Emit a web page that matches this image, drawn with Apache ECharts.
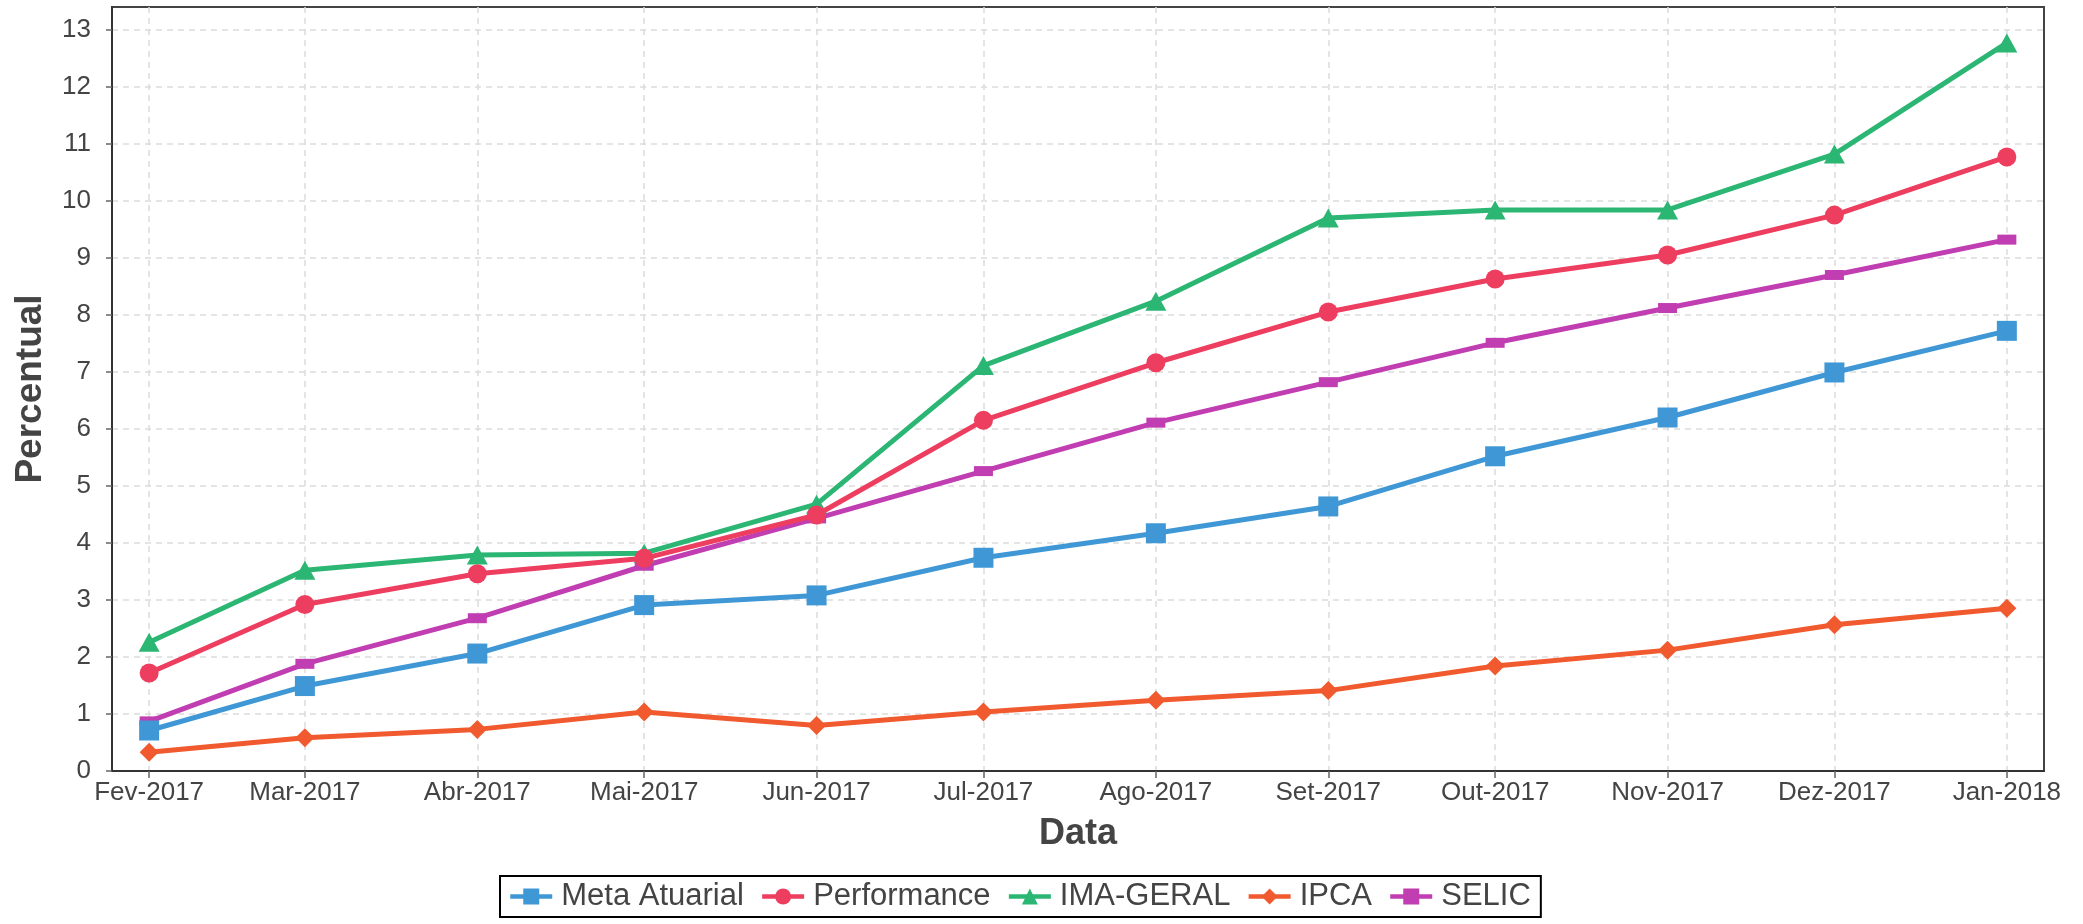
<!DOCTYPE html>
<html>
<head>
<meta charset="utf-8">
<script src="https://cdn.jsdelivr.net/npm/echarts@6.0.0/dist/echarts.min.js"></script>
<style>
  html, body { margin: 0; padding: 0; background: #fff; }
  #main { width: 2083px; height: 924px; }
</style>
</head>
<body>
<div id="main"></div>
<script>
// dados
var months = ['Fev-2017', 'Mar-2017', 'Abr-2017', 'Mai-2017', 'Jun-2017', 'Jul-2017',
              'Ago-2017', 'Set-2017', 'Out-2017', 'Nov-2017', 'Dez-2017', 'Jan-2018'];
var dates = ['2017-02-01', '2017-03-01', '2017-04-01', '2017-05-01', '2017-06-01', '2017-07-01',
             '2017-08-01', '2017-09-01', '2017-10-01', '2017-11-01', '2017-12-01', '2018-01-01'];
var metaAtuarial = [0.71, 1.49, 2.06, 2.91, 3.08, 3.74, 4.17, 4.64, 5.52, 6.20, 6.99, 7.72];
var performance  = [1.72, 2.92, 3.46, 3.73, 4.49, 6.15, 7.16, 8.05, 8.63, 9.05, 9.75, 10.77];
var imaGeral     = [2.26, 3.52, 3.79, 3.82, 4.68, 7.11, 8.24, 9.70, 9.84, 9.84, 10.82, 12.77];
var ipca         = [0.33, 0.585, 0.73, 1.035, 0.80, 1.035, 1.24, 1.41, 1.84, 2.12, 2.565, 2.855];
var selic        = [0.87, 1.88, 2.68, 3.60, 4.43, 5.26, 6.11, 6.82, 7.51, 8.12, 8.70, 9.32];
var yTicks = [0, 1, 2, 3, 4, 5, 6, 7, 8, 9, 10, 11, 12, 13];

// eixo x em dias desde o primeiro mês (meses têm tamanhos diferentes)
var DAY = 86400000;
var t0 = Date.parse(dates[0] + 'T00:00:00Z');
var days = dates.map(function (d) { return (Date.parse(d + 'T00:00:00Z') - t0) / DAY; });
var xPad = (days[days.length - 1] - days[0]) * 0.02;
function pairs(values) {
    return days.map(function (t, i) { return [t, values[i]]; });
}
function monthLabel(v) {
    for (var i = 0; i < days.length; i++) {
        if (Math.abs(days[i] - v) < 0.5) return months[i];
    }
    return '';
}

var font = '"Liberation Sans", Arial, sans-serif';
var textColor = '#444';
var gridLine = { show: true, lineStyle: { type: [6, 5], color: '#dcdcdc', width: 1.5 } };

function lineSeries(name, values, color, symbol, size, z) {
    return {
        name: name,
        type: 'line',
        data: pairs(values),
        symbol: symbol,
        symbolSize: size,
        showAllSymbol: true,
        z: z,
        lineStyle: { color: color, width: 5 },
        itemStyle: { color: color },
        emphasis: { disabled: true }
    };
}

var option = {
    animation: false,
    textStyle: { fontFamily: font },
    grid: {
        left: 112, right: 39, top: 7, bottom: 153,
        show: true, borderColor: '#444', borderWidth: 2,
        outerBoundsMode: 'none'
    },
    legend: {
        left: 500, top: 876,
        borderColor: '#000', borderWidth: 2,
        padding: [5, 10, 5, 8],
        itemWidth: 42, itemHeight: 20, itemGap: 16,
        lineStyle: { width: 4.5 },
        textStyle: { fontSize: 31, color: textColor, fontFamily: font, padding: [0, 0, 0, 4] },
        data: ['Meta Atuarial', 'Performance', 'IMA-GERAL', 'IPCA', 'SELIC']
    },
    xAxis: {
        type: 'value',
        min: days[0] - xPad,
        max: days[days.length - 1] + xPad,
        name: 'Data',
        nameLocation: 'middle',
        nameGap: 45,
        nameTextStyle: { fontSize: 36, fontWeight: 'bold', color: textColor, fontFamily: font },
        axisLine: { show: true, onZero: false, lineStyle: { color: '#333', width: 2 } },
        axisTick: { show: true, customValues: days, length: 7, lineStyle: { color: '#666', width: 1.5 } },
        axisLabel: {
            customValues: days,
            formatter: monthLabel,
            fontSize: 26, color: textColor, margin: 9, fontFamily: font
        },
        splitLine: gridLine
    },
    yAxis: {
        type: 'value',
        min: 0,
        max: 13.4,
        name: 'Percentual',
        nameLocation: 'middle',
        nameGap: 63,
        nameTextStyle: { fontSize: 37, fontWeight: 'bold', color: textColor, fontFamily: font },
        axisLine: { show: true, onZero: false, lineStyle: { color: '#333', width: 2 } },
        axisTick: { show: true, customValues: yTicks, length: 6, lineStyle: { color: '#666', width: 1.5 } },
        axisLabel: { customValues: yTicks, fontSize: 26, color: textColor, margin: 21, fontFamily: font },
        splitLine: gridLine
    },
    series: [
        lineSeries('Meta Atuarial', metaAtuarial, '#3f98d5', 'rect', 20, 10),
        lineSeries('Performance', performance, '#ee3e60', 'circle', 19, 9),
        lineSeries('IMA-GERAL', imaGeral, '#2cb674', 'triangle', [21, 19], 8),
        lineSeries('IPCA', ipca, '#f15a2f', 'diamond', 19, 7),
        lineSeries('SELIC', selic, '#c13db2', 'rect', [19, 10], 6)
    ]
};

var chart = echarts.init(document.getElementById('main'), null, { renderer: 'canvas' });
chart.setOption(option);
</script>
</body>
</html>
